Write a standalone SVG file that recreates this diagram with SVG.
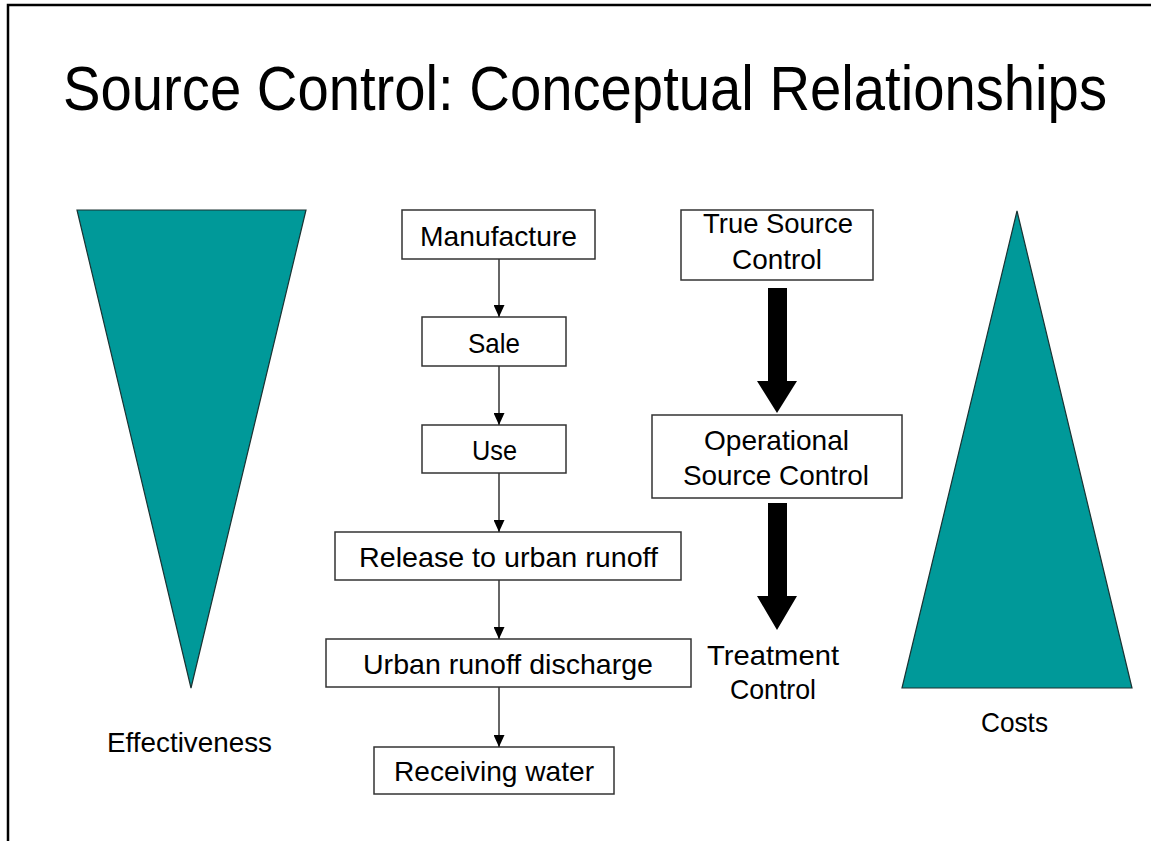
<svg xmlns="http://www.w3.org/2000/svg" width="1151" height="841" viewBox="0 0 1151 841">
<style>
text{font-family:"Liberation Sans",Arial,sans-serif;fill:#000;}
.t{font-size:28.5px;}
.box{fill:#fff;stroke:#333;stroke-width:1.5;}
.tri{fill:#009999;stroke:#1a3333;stroke-width:1.2;}
.con{stroke:#333;stroke-width:1.5;fill:none;}
.big{fill:#000;}
</style>
<defs>
<marker id="ah" markerWidth="12" markerHeight="11" refX="12" refY="5.5" orient="auto" markerUnits="userSpaceOnUse">
<path d="M0,0 L12,5.5 L0,11 Z" fill="#000"/>
</marker>
</defs>
<rect width="1151" height="841" fill="#fff"/>
<path d="M8,841 L8,5 L1151,5" fill="none" stroke="#000" stroke-width="2.5"/>
<text id="title" transform="translate(63,110) scale(1,1.12)" x="0" y="0" font-size="56" textLength="1044" lengthAdjust="spacingAndGlyphs">Source Control: Conceptual Relationships</text>

<g id="effectiveness">
<polygon class="tri" points="77,210 306,210 191,688"/>
<text class="t" x="107" y="752" textLength="165" lengthAdjust="spacingAndGlyphs">Effectiveness</text>
</g>
<g id="costs">
<polygon class="tri" points="1017,211 1132,688 902,688"/>
<text class="t" x="981" y="732" textLength="67" lengthAdjust="spacingAndGlyphs">Costs</text>
</g>

<g id="manufacture"><rect class="box" x="402" y="210" width="193" height="49"/><text class="t" x="420" y="246" textLength="157" lengthAdjust="spacingAndGlyphs">Manufacture</text></g>
<g id="sale"><rect class="box" x="422" y="317" width="144" height="49"/><text class="t" x="468" y="353" textLength="52" lengthAdjust="spacingAndGlyphs">Sale</text></g>
<g id="use"><rect class="box" x="422" y="425" width="144" height="48"/><text class="t" x="472" y="460" textLength="45" lengthAdjust="spacingAndGlyphs">Use</text></g>
<g id="release"><rect class="box" x="335" y="532" width="346" height="48"/><text class="t" x="359" y="567" textLength="299" lengthAdjust="spacingAndGlyphs">Release to urban runoff</text></g>
<g id="discharge"><rect class="box" x="326" y="639" width="365" height="48"/><text class="t" x="363" y="674" textLength="290" lengthAdjust="spacingAndGlyphs">Urban runoff discharge</text></g>
<g id="receiving"><rect class="box" x="374" y="747" width="240" height="47"/><text class="t" x="394" y="781" textLength="200" lengthAdjust="spacingAndGlyphs">Receiving water</text></g>

<g id="true-source"><rect class="box" x="681" y="210" width="192" height="70"/>
<text class="t" x="703" y="233" textLength="150" lengthAdjust="spacingAndGlyphs">True Source</text>
<text class="t" x="732" y="269" textLength="90" lengthAdjust="spacingAndGlyphs">Control</text></g>
<g id="operational"><rect class="box" x="652" y="415" width="250" height="83"/>
<text class="t" x="704" y="450" textLength="145" lengthAdjust="spacingAndGlyphs">Operational</text>
<text class="t" x="683" y="485" textLength="186" lengthAdjust="spacingAndGlyphs">Source Control</text></g>
<g id="treatment">
<text class="t" x="707" y="665" textLength="132" lengthAdjust="spacingAndGlyphs">Treatment</text>
<text class="t" x="730" y="699" textLength="86" lengthAdjust="spacingAndGlyphs">Control</text></g>

<g id="connectors">
<line class="con" x1="499" y1="259" x2="499" y2="317" marker-end="url(#ah)"/>
<line class="con" x1="499" y1="366" x2="499" y2="425" marker-end="url(#ah)"/>
<line class="con" x1="499" y1="473" x2="499" y2="532" marker-end="url(#ah)"/>
<line class="con" x1="499" y1="580" x2="499" y2="639" marker-end="url(#ah)"/>
<line class="con" x1="499" y1="687" x2="499" y2="747" marker-end="url(#ah)"/>
<polygon class="big" points="768,288 787,288 787,381 797,381 777,413 757,381 768,381"/>
<polygon class="big" points="768,503 787,503 787,596 797,596 777,630 757,596 768,596"/>
</g>
</svg>
